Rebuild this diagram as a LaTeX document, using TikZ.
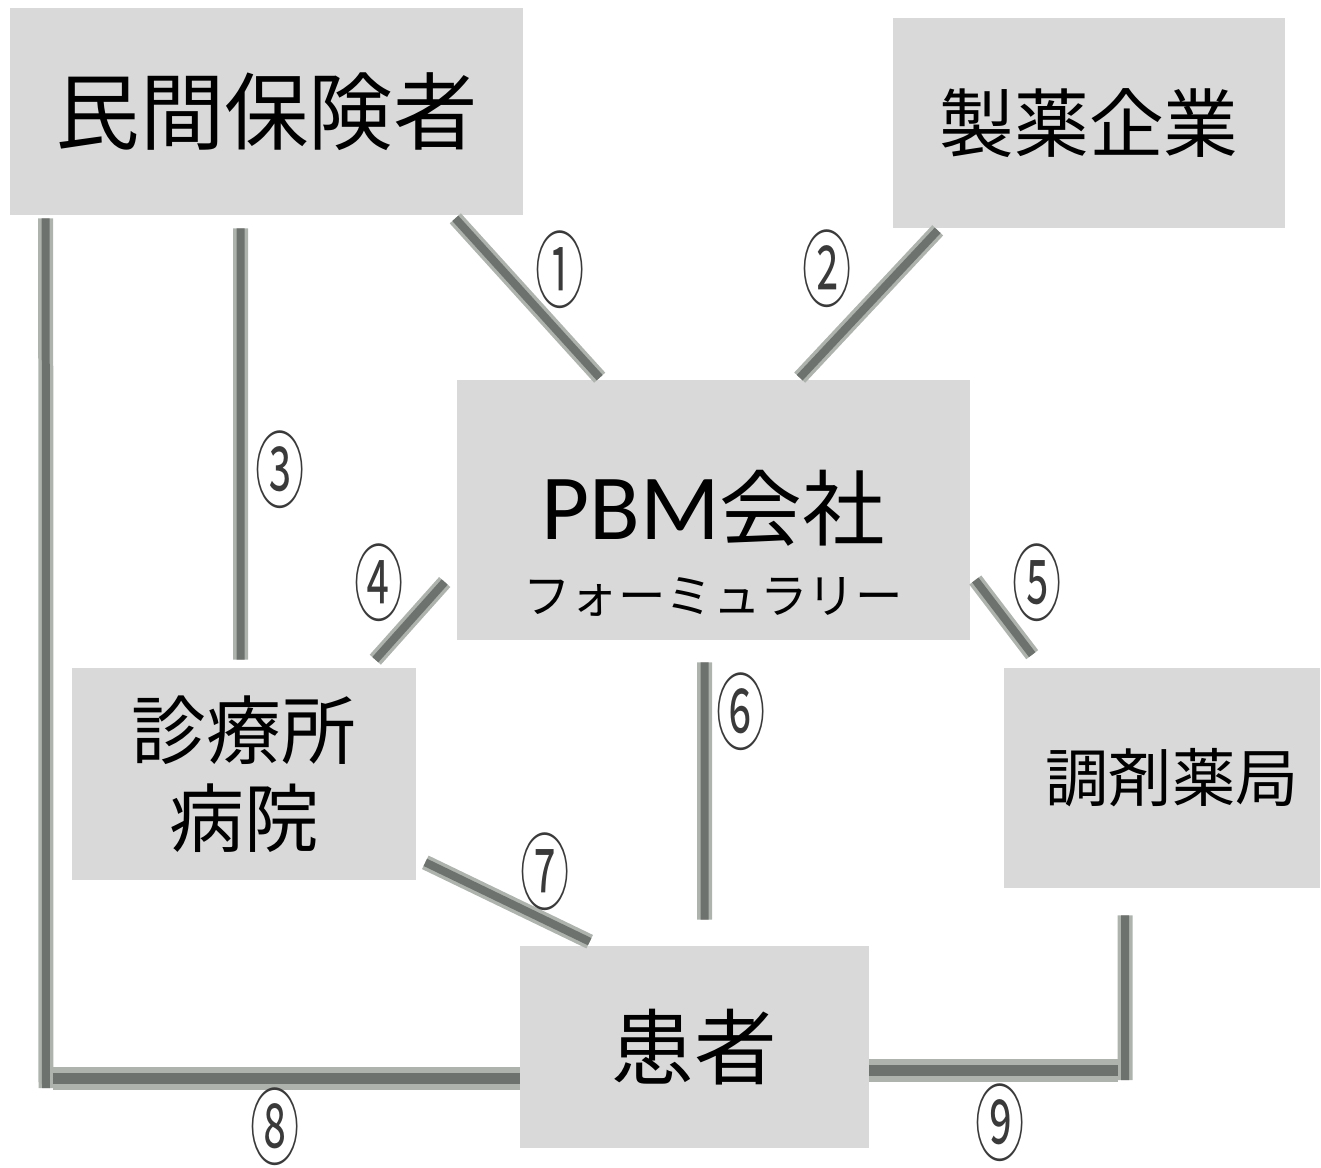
\documentclass[tikz,border=0pt]{standalone}
\usepackage{fontspec}
\setmainfont{Noto Sans CJK JP}
\newfontfamily\latinfont{Carlito}
\usepackage{graphicx}
\definecolor{boxgray}{HTML}{D9D9D9}
\definecolor{linkgray}{HTML}{6E726E}
\definecolor{edgegray}{HTML}{AEB3AE}
\definecolor{numgray}{HTML}{3A3A3A}
\usetikzlibrary{calc}

\newcommand{\cnum}[1]{\scalebox{1}[1.7]{#1}}

\begin{document}
\begin{tikzpicture}[x=0.02cm,y=-0.02cm,
  box/.style={fill=boxgray,inner sep=0pt,align=center},
  link/.style={line width=0.16cm,draw=linkgray,
    preaction={draw,edgegray,line width=0.30cm}},
  base/.style={line width=0.22cm,draw=linkgray,
    preaction={draw,edgegray,line width=0.46cm}},
  num/.style={font=\fontsize{28}{28}\selectfont,text=numgray,inner sep=0pt}
]
  \useasboundingbox (0,0) rectangle (1321,1167);

  % boxes
  \node[box,minimum width=10.26cm,minimum height=4.14cm,font=\fontsize{48}{50}\selectfont]
    (ins) at (266.5,111.5) {民間保険者};
  \node[box,minimum width=7.84cm,minimum height=4.2cm,font=\fontsize{42.5}{45}\selectfont]
    (mfr) at (1089,123) {製薬企業};
  \node[box,minimum width=10.26cm,minimum height=5.2cm] (pbm) at (713.5,510) {};
  \node[align=center,inner sep=0pt,font=\fontsize{47}{56}\selectfont] (pbmtxt) at (713,543)
    {{\fontsize{53}{56}\selectfont\latinfont PBM}会社\\[-14pt]
     {\fontsize{27}{30}\selectfont フォーミュラリー}};
  \node[box,minimum width=6.88cm,minimum height=4.24cm,font=\fontsize{42.5}{50}\selectfont]
    (clinic) at (244,774) {診療所\\病院};
  \node[box,minimum width=6.34cm,minimum height=4.4cm,font=\fontsize{36}{40}\selectfont]
    (pharm) at (1162,778) {\hspace{0.4cm}調剤薬局};
  \node[box,minimum width=6.98cm,minimum height=4.04cm,font=\fontsize{47}{50}\selectfont]
    (pat) at (694.5,1047) {患者};

  % links
  \draw[link] ($(ins.south east)+(-68,3)$) -- ($(pbm.north west)+(143,-2)$);
  \draw[link] ($(mfr.south west)+(45,2)$) -- ($(pbm.north west)+(343,-2)$);
  \draw[link] ($(ins.south west)+(231,13)$) -- ($(clinic.north west)+(169,-8)$);
  \draw[link] ($(pbm.west)+(-12,72)$) -- ($(clinic.north east)+(-41,-8)$);
  \draw[link] ($(pbm.east)+(5,70)$) -- ($(pharm.north west)+(29,-13)$);
  \draw[link] ($(pbm.south west)+(248,22)$) -- ($(pat.north west)+(185,-26)$);
  \draw[link] ($(clinic.south east)+(9,-18)$) -- ($(pat.north west)+(70,-4)$);

  \coordinate (c8) at (46,1078);
  \draw[link] ($(ins.south west)+(36,3)$) -- ([yshift=-0.2cm]c8);
  \draw[base] ([xshift=0.15cm]c8) -- (pat.west |- c8);
  \coordinate (c9) at (1125,1070);
  \draw[link] ($(pharm.south west)+(122,27)$) -- ([yshift=-0.2cm]c9);
  \draw[base] ([xshift=-0.15cm]c9) -- (pat.east |- c9);

  % numbers
  \node[num] (n1) at (560,270) {\cnum{①}};
  \node[num] (n2) at (827,269) {\cnum{②}};
  \node[num] (n3) at (280,470) {\cnum{③}};
  \node[num] (n4) at (379,583) {\cnum{④}};
  \node[num] (n5) at (1037,583) {\cnum{⑤}};
  \node[num] (n6) at (741,712) {\cnum{⑥}};
  \node[num] (n7) at (545,872) {\cnum{⑦}};
  \node[num] (n8) at (275,1127) {\cnum{⑧}};
  \node[num] (n9) at (1000,1123) {\cnum{⑨}};
\end{tikzpicture}
\end{document}
